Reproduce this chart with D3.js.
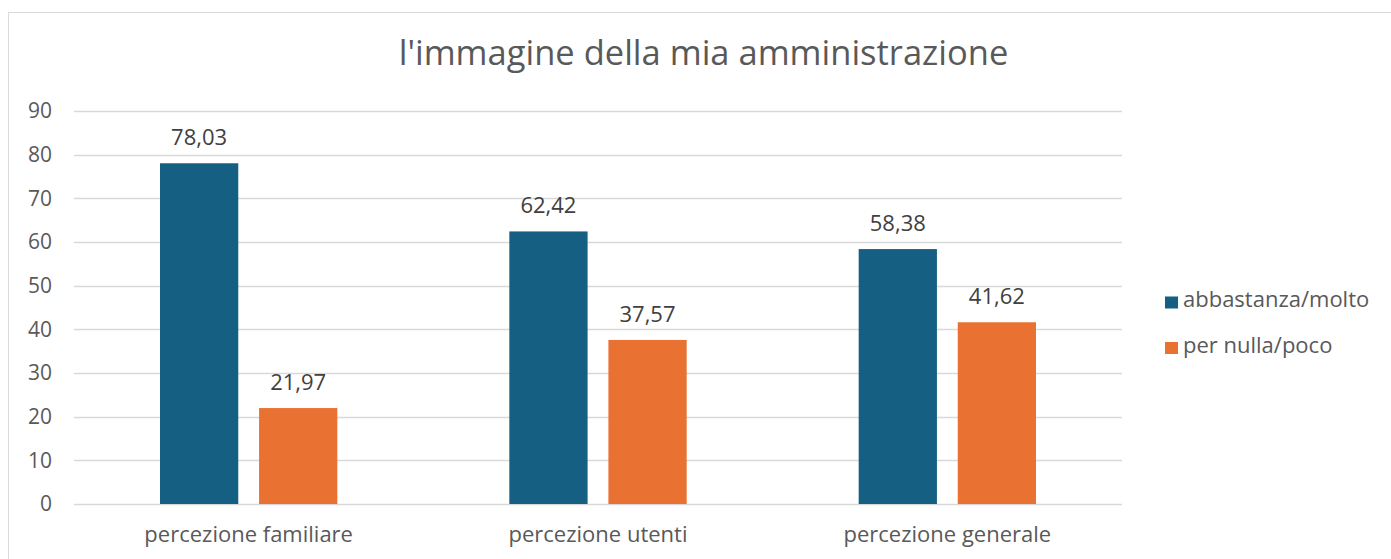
<!DOCTYPE html>
<html>
<head>
<meta charset="utf-8">
<script src="https://cdn.jsdelivr.net/npm/d3@7"></script>
<style>
  html, body { margin: 0; padding: 0; background: #fff; }
  svg { display: block; }
  text { font-family: "Open Sans", "Noto Sans", sans-serif; fill: #595959; }
</style>
</head>
<body>
<svg id="chart" width="1391" height="559"></svg>
<script>
const categories = ["percezione familiare", "percezione utenti", "percezione generale"];
const seriesNames = ["abbastanza/molto", "per nulla/poco"];
const abbastanzaMolto = [78.03, 62.42, 58.38];
const perNullaPoco = [21.97, 37.57, 41.62];
const yTicks = [0, 10, 20, 30, 40, 50, 60, 70, 80, 90];
const colors = ["#156082", "#E97132"];

const svg = d3.select("#chart");
const W = 1391, H = 559;
const FONT = '"Open Sans", "Noto Sans", sans-serif';

// outer chart frame
svg.append("rect")
  .attr("x", 8.5).attr("y", 12.5)
  .attr("width", W + 10).attr("height", H + 10)
  .attr("fill", "#fff").attr("stroke", "#D9D9D9").attr("stroke-width", 1);

const plot = { left: 74, right: 1122, top: 111, bottom: 504 };

const x = d3.scaleBand()
  .domain(categories)
  .range([plot.left, plot.right])
  .paddingInner(0).paddingOuter(0);

// two bars per category, centred in the band with a small gap between them
const groupInset = 86;
const xSub = d3.scaleBand()
  .domain(seriesNames)
  .range([groupInset, x.bandwidth() - groupInset])
  .paddingInner(0.21)
  .paddingOuter(0);

const y = d3.scaleLinear().domain([0, 90]).range([plot.bottom, plot.top]);

// gridlines
svg.append("g")
  .selectAll("line")
  .data(yTicks)
  .join("line")
  .attr("x1", plot.left).attr("x2", plot.right)
  .attr("y1", d => Math.round(y(d)) + 0.5).attr("y2", d => Math.round(y(d)) + 0.5)
  .attr("stroke", "#D9D9D9").attr("stroke-width", 1.3);

// y axis labels
const yAxis = d3.axisLeft(y).tickValues(yTicks).tickSize(0).tickPadding(0);
const gy = svg.append("g").attr("transform", `translate(52,0)`).call(yAxis);
gy.select(".domain").remove();
gy.selectAll("text")
  .attr("font-size", 21)
  .style("font-family", FONT)
  .attr("fill", "#595959");

// x axis labels
const xAxis = d3.axisBottom(x).tickSize(0).tickPadding(0);
const gx = svg.append("g").attr("transform", `translate(0,${plot.bottom + 22})`).call(xAxis);
gx.select(".domain").remove();
gx.selectAll("text")
  .attr("font-size", 22)
  .style("font-family", FONT)
  .attr("fill", "#595959");

// bars
const rows = categories.map((c, i) => ({
  category: c,
  values: [
    { series: seriesNames[0], value: abbastanzaMolto[i] },
    { series: seriesNames[1], value: perNullaPoco[i] }
  ]
}));

const groups = svg.append("g").selectAll("g")
  .data(rows)
  .join("g")
  .attr("transform", d => `translate(${x(d.category)},0)`);

groups.selectAll("rect")
  .data(d => d.values)
  .join("rect")
  .attr("x", d => xSub(d.series))
  .attr("width", xSub.bandwidth())
  .attr("y", d => y(d.value))
  .attr("height", d => y(0) - y(d.value))
  .attr("fill", (d, i) => colors[i]);

const fmt = v => d3.format(".2f")(v).replace(".", ",");
groups.selectAll("text.val")
  .data(d => d.values)
  .join("text")
  .attr("class", "val")
  .attr("x", d => xSub(d.series) + xSub.bandwidth() / 2)
  .attr("y", d => y(d.value) - 18)
  .attr("text-anchor", "middle")
  .attr("font-size", 22)
  .style("fill", "#404040")
  .text(d => fmt(d.value));

// title
svg.append("text")
  .attr("x", 703.5).attr("y", 65)
  .attr("text-anchor", "middle")
  .attr("font-size", 34.5)
  .text("l'immagine della mia amministrazione");

// legend
const legend = svg.append("g").attr("transform", "translate(1165,0)");
const legendY = [302.5, 348];
seriesNames.forEach((s, i) => {
  legend.append("rect")
    .attr("x", 0).attr("y", legendY[i] - 6)
    .attr("width", 13).attr("height", 12)
    .attr("fill", colors[i]);
  legend.append("text")
    .attr("x", 18).attr("y", legendY[i] + 4.5)
    .attr("font-size", 22)
    .text(s);
});
</script>
</body>
</html>
